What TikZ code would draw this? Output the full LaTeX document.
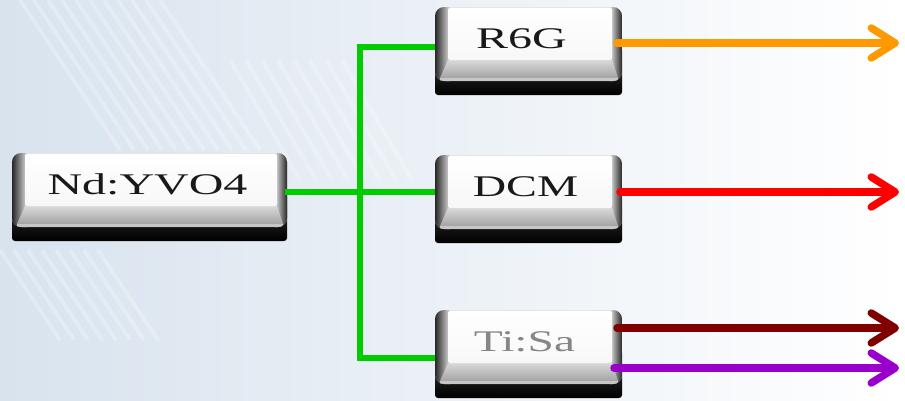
\documentclass[tikz,border=0pt]{standalone}
\usepackage{fontspec}
\setmainfont{Liberation Serif}
\usetikzlibrary{calc,arrows.meta}
\definecolor{bgl}{RGB}{216,227,238}
\definecolor{bgm}{RGB}{230,237,244}
\definecolor{lgreen}{RGB}{0,204,0}
\definecolor{lorange}{RGB}{255,153,0}
\definecolor{lred}{RGB}{255,0,0}
\definecolor{ldred}{RGB}{128,0,0}
\definecolor{lpurple}{RGB}{153,0,204}
\tikzset{
  gline/.style={draw=lgreen, line width=6pt},
  beam/.style={line width=7.5pt, line cap=round, -{Straight Barb[length=24pt,width=30pt,line cap=round,round]}},
  boxnode/.style={minimum width=#1, minimum height=88pt, inner sep=0pt, outer sep=0pt},
  keytext/.style={anchor=base, inner sep=0pt, font=\fontsize{30}{30}\selectfont}
}
% #1 name, #2 left, #3 top, #4 width, #5 text, #6 text colour, #7 text x offset, #8 hscale
\newcommand\keycap[8]{%
  \shade[top color=black!75, bottom color=black, rounded corners=3pt] (#2,#3+40) rectangle (#2+#4,#3+88);
  \begin{scope}
    \clip[rounded corners=9pt] (#2,#3) rectangle (#2+#4,#3+74);
    \shade[top color=gray!20, bottom color=gray!80] (#2,#3) rectangle (#2+#4,#3+74);
    \shade[left color=black!85, right color=gray!25] (#2,#3) rectangle (#2+15,#3+74);
    \shade[left color=gray!25, right color=black!85] (#2+#4-12,#3) rectangle (#2+#4,#3+74);
    \shade[top color=gray!30, bottom color=gray!72] (#2+13,#3+53) -- (#2+#4-10,#3+53) -- (#2+#4-4,#3+71) -- (#2+5,#3+71) -- cycle;
    \fill[gray!45] (#2+5,#3+71) rectangle (#2+#4-4,#3+74);
  \end{scope}
  \shade[top color=white, bottom color=gray!6, rounded corners=2pt] (#2+13,#3+1) rectangle (#2+#4-10,#3+53);
  \node[boxnode=#4] (#1) at (#2+#4/2,#3+44) {};
  \node[keytext, text=#6] (#1-t) at (#2+#4/2+#7,#3+41) {\scalebox{#8}[1]{#5}};
}
\begin{document}
\begin{tikzpicture}[x=1pt,y=-1pt]
\useasboundingbox (0,0) rectangle (905,400);
\shade[left color=bgl, middle color=bgm, right color=white] (0,0) rectangle (905,400);
\begin{scope}[white, opacity=0.25, line width=4pt]
  \foreach \s in {0,14,...,140} {\draw (20+\s,0) -- (120+\s,150);}
  \foreach \s in {0,16,...,120} {\draw (230+\s,60) -- (300+\s,180);}
  \foreach \s in {0,14,...,100} {\draw (0+\s,250) -- (60+\s,340);}
\end{scope}
\keycap{nd}{12}{153}{275}{Nd:YVO4}{black!90}{-2}{1.6}
\keycap{r6g}{435}{7}{187}{R6G}{black!90}{-7}{1.6}
\keycap{dcm}{435}{155}{187}{DCM}{black!90}{-3}{1.54}
\keycap{tisa}{435}{310}{187}{Ti:Sa}{gray!95}{-4}{1.58}
% green connectors
\draw[gline] ($(r6g.north west)+(0,40)$) -| ($(tisa.north west)+(-75,48)$) -- ($(tisa.north west)+(0,48)$);
\draw[gline] ($(nd.north east)+(-2,39)$) -- ($(dcm.north west)+(0,37)$);
% output beams
\coordinate (o1) at (899,43);
\coordinate (o2) at (899,192);
\coordinate (o3) at (899,328);
\coordinate (o4) at (899,368);
\draw[beam, lorange] ($(r6g.north east)+(-5,36)$) -- (o1);
\draw[beam, lred] ($(dcm.north east)+(-2,37)$) -- (o2);
\draw[beam, ldred] ($(tisa.north east)+(-5,18)$) -- (o3);
\draw[beam, lpurple] ($(tisa.north east)+(-8,58)$) -- (o4);
\end{tikzpicture}
\end{document}
